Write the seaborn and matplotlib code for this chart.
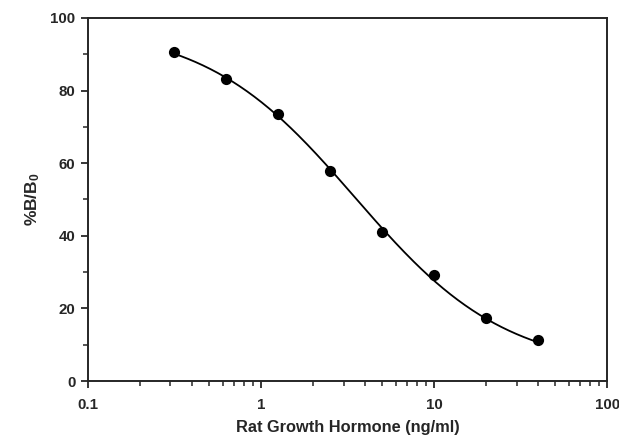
import numpy as np
import pandas as pd
import seaborn as sns
import matplotlib.pyplot as plt
from matplotlib.ticker import FixedLocator, LogLocator, NullFormatter

# standard curve points
conc = [0.3125, 0.625, 1.25, 2.5, 5, 10, 20, 40]
pct_bound = [90.6, 83.2, 73.5, 57.9, 41.0, 29.2, 17.4, 11.3]

# 4-parameter logistic fit
fit_top, fit_bottom, fit_ec50, fit_slope = 98.0, 3.0, 3.5, 1.0

x_ticks = [0.1, 1, 10, 100]
x_ticklabels = ['0.1', '1', '10', '100']
y_ticks = [0, 20, 40, 60, 80, 100]

sns.set_style('ticks')
plt.rcParams['font.family'] = ['Liberation Sans', 'DejaVu Sans']
plt.rcParams['font.weight'] = 'bold'
plt.rcParams['mathtext.fontset'] = 'custom'
plt.rcParams['mathtext.bf'] = 'Liberation Sans:bold'
plt.rcParams['mathtext.rm'] = 'Liberation Sans:bold'
plt.rcParams['mathtext.default'] = 'bf'

xs = np.logspace(np.log10(conc[0]), np.log10(conc[-1]), 200)
curve = pd.DataFrame({
    'x': xs,
    'y': fit_bottom + (fit_top - fit_bottom) / (1 + (xs / fit_ec50) ** fit_slope),
})
points = pd.DataFrame({'x': conc, 'y': pct_bound})

fig = plt.figure(figsize=(6.19, 4.37), dpi=100)
ax = fig.add_axes([0.142, 0.128, 0.839, 0.831])

sns.lineplot(data=curve, x='x', y='y', ax=ax, color='black', linewidth=1.3)
sns.scatterplot(data=points, x='x', y='y', ax=ax, color='black', s=65,
                edgecolor='black', linewidth=0, zorder=3)

ax.set_xscale('log')
ax.set_xlim(0.1, 100)
ax.set_ylim(0, 100)
ax.xaxis.set_major_locator(FixedLocator(x_ticks))
ax.set_xticklabels(x_ticklabels)
ax.xaxis.set_minor_locator(LogLocator(base=10, subs=np.arange(2, 10)))
ax.xaxis.set_minor_formatter(NullFormatter())
ax.set_yticks(y_ticks)
ax.yaxis.set_minor_locator(FixedLocator([10, 30, 50, 70, 90]))

for side in ['top', 'right', 'left', 'bottom']:
    ax.spines[side].set_visible(True)
    ax.spines[side].set_linewidth(1.4)
ax.tick_params(which='major', direction='out', length=5, width=1.3, labelsize=10.8)
ax.tick_params(axis='x', which='major', pad=7)
ax.tick_params(axis='y', which='major', pad=4)
ax.tick_params(which='minor', direction='out', length=3.5, width=1.1)
ax.tick_params(top=False, right=False, which='both')

ax.set_xlabel('Rat Growth Hormone (ng/ml)', fontsize=11.8, fontweight='bold', labelpad=6)
ax.set_ylabel(r'%B/B$_0$', fontsize=12.5, fontweight='bold', labelpad=6)

fig.savefig('out.png', dpi=100)
